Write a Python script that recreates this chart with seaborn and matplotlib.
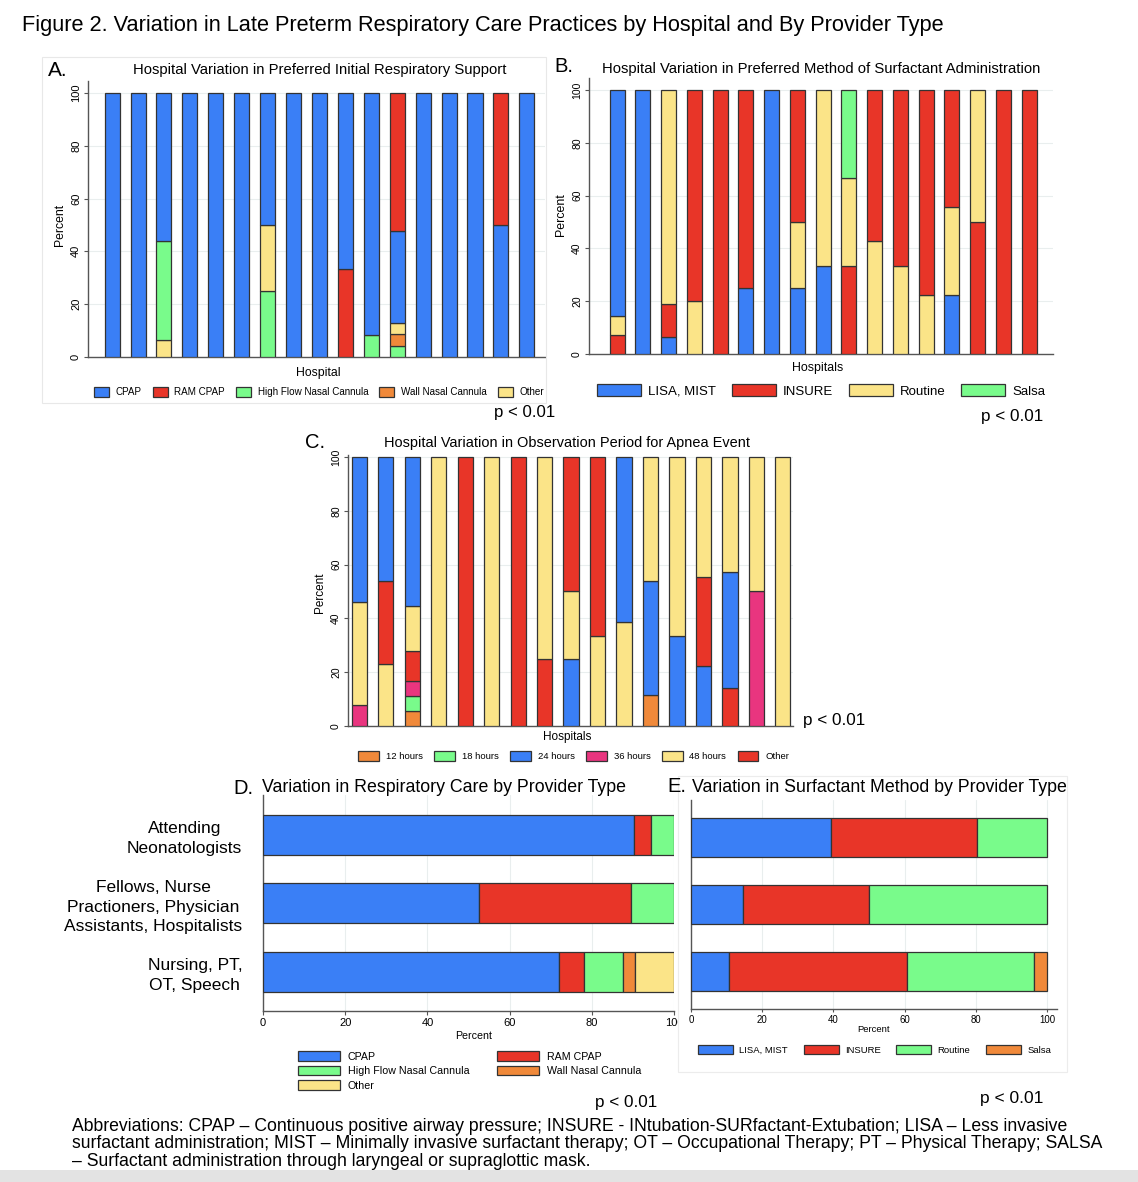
import numpy as np
import matplotlib
matplotlib.use("Agg")
import matplotlib.pyplot as plt
from matplotlib.patches import Patch, Rectangle
import seaborn as sns

# ---------------- data ----------------
n_hospitals = 17

resp_labels = ["CPAP", "RAM CPAP", "High Flow Nasal Cannula", "Wall Nasal Cannula", "Other"]
a_cpap  = [100, 100, 56.25, 100, 100, 100, 50, 100, 100, 66.67, 91.67, 34.78, 100, 100, 100, 50, 100]
a_ram   = [0, 0, 0, 0, 0, 0, 0, 0, 0, 33.33, 0, 52.17, 0, 0, 0, 50, 0]
a_hfnc  = [0, 0, 37.5, 0, 0, 0, 25, 0, 0, 0, 8.33, 4.35, 0, 0, 0, 0, 0]
a_wall  = [0, 0, 0, 0, 0, 0, 0, 0, 0, 0, 0, 4.35, 0, 0, 0, 0, 0]
a_other = [0, 0, 6.25, 0, 0, 0, 25, 0, 0, 0, 0, 4.35, 0, 0, 0, 0, 0]

surf_labels = ["LISA, MIST", "INSURE", "Routine", "Salsa"]
b_lisa    = [85.71, 100, 6.25, 0, 0, 25, 100, 25, 33.33, 0, 0, 0, 0, 22.22, 0, 0, 0]
b_insure  = [7.14, 0, 12.5, 80, 100, 75, 0, 50, 0, 33.33, 57.14, 66.67, 77.78, 44.44, 50, 100, 100]
b_routine = [7.14, 0, 81.25, 20, 0, 0, 0, 25, 66.67, 33.33, 42.86, 33.33, 22.22, 33.33, 50, 0, 0]
b_salsa   = [0, 0, 0, 0, 0, 0, 0, 0, 0, 33.33, 0, 0, 0, 0, 0, 0, 0]

apnea_labels = ["12 hours", "18 hours", "24 hours", "36 hours", "48 hours", "Other"]
c_12h   = [0, 0, 5.56, 0, 0, 0, 0, 0, 0, 0, 0, 11.54, 0, 0, 0, 0, 0]
c_18h   = [0, 0, 5.56, 0, 0, 0, 0, 0, 0, 0, 0, 0, 0, 0, 0, 0, 0]
c_24h   = [53.85, 46.15, 55.56, 0, 0, 0, 0, 0, 25, 0, 61.54, 42.31, 33.33, 22.22, 42.86, 0, 0]
c_36h   = [7.69, 0, 5.56, 0, 0, 0, 0, 0, 0, 0, 0, 0, 0, 0, 0, 50, 0]
c_48h   = [38.46, 23.08, 16.67, 100, 0, 100, 0, 75, 25, 33.33, 38.46, 46.15, 66.67, 44.44, 42.86, 50, 100]
c_other = [0, 30.77, 11.11, 0, 100, 0, 100, 25, 50, 66.67, 0, 0, 0, 33.33, 14.29, 0, 0]

providers = ["Attending\nNeonatologists",
             "Fellows, Nurse\nPractioners, Physician\nAssistants, Hospitalists",
             "Nursing, PT,\nOT, Speech"]
d_cpap  = [90.3, 52.6, 71.9]
d_ram   = [4.2, 36.9, 6.2]
d_hfnc  = [5.5, 10.5, 9.4]
d_wall  = [0, 0, 3.1]
d_other = [0, 0, 9.4]

e_lisa    = [39.4, 14.7, 10.7]
e_insure  = [40.9, 35.3, 50.0]
e_routine = [19.7, 50.0, 35.7]
e_salsa   = [0, 0, 3.6]

fig_title = "Figure 2. Variation in Late Preterm Respiratory Care Practices by Hospital and By Provider Type"
abbrev_lines = [
    "Abbreviations: CPAP \u2013 Continuous positive airway pressure; INSURE - INtubation-SURfactant-Extubation; LISA \u2013 Less invasive",
    "surfactant administration; MIST \u2013 Minimally invasive surfactant therapy; OT \u2013 Occupational Therapy; PT \u2013 Physical Therapy; SALSA",
    "\u2013 Surfactant administration through laryngeal or supraglottic mask.",
]

# ---------------- style ----------------
BLUE, RED, GREEN = "#3a7ff6", "#e83528", "#79fb8b"
ORANGE, YELLOW, PINK = "#f0893a", "#fbe488", "#e9357f"
EDGE = "#333333"
AXC = "#555555"
GRIDC = "#e9eeee"

sns.set_theme(style="white")
plt.rcParams['font.family'] = ['Liberation Sans', 'DejaVu Sans']
plt.rcParams['axes.edgecolor'] = AXC
plt.rcParams['axes.linewidth'] = 1.0
plt.rcParams['text.color'] = 'black'
plt.rcParams['axes.labelcolor'] = 'black'
plt.rcParams['axes.titlecolor'] = 'black'
plt.rcParams['xtick.color'] = 'black'
plt.rcParams['ytick.color'] = 'black'
plt.rcParams['legend.labelcolor'] = 'black'

W, H = 1138, 1182
fig = plt.figure(figsize=(W / 100, H / 100), dpi=100)
fig.patch.set_facecolor("white")
renderer = fig.canvas.get_renderer()


def fx(x):
    return x / W


def fy(y):
    return 1 - y / H


def add_ax(box, z=0):
    l, t, r, b = box
    return fig.add_axes([l / W, 1 - b / H, (r - l) / W, (b - t) / H], zorder=z)


def fit(t, target_w):
    w = t.get_window_extent(renderer).width
    t.set_fontsize(t.get_fontsize() * target_w / w)
    return t


def ftext(x, y, s, size, target_w=None, **kw):
    t = fig.text(fx(x), fy(y), s, fontsize=size, ha='left', va='center', color='black', **kw)
    if target_w:
        fit(t, target_w)
    return t


def to_ax(box, x, y):
    l, t, r, b = box
    return (x - l) / (r - l), (b - y) / (b - t)


def vertical_panel(box, values, colors, width, xlim, ytop, tick_fs, lab_fs,
                   xlabel, xlab_xy, ylab_xy):
    ax = add_ax(box)
    vals = np.array(values, dtype=float)
    for j in range(vals.shape[1]):
        order = np.argsort(vals[:, j], kind="stable")
        bottom = 0.0
        for i in order:
            v = vals[i, j]
            if v <= 0:
                continue
            ax.bar(j, v, bottom=bottom, width=width, color=colors[i],
                   edgecolor=EDGE, linewidth=0.9, zorder=3)
            bottom += v
    ax.set_xlim(*xlim)
    ax.set_ylim(0, ytop)
    ax.set_xticks([])
    ticks = [0, 20, 40, 60, 80, 100]
    ax.set_yticks(ticks)
    ax.set_yticklabels([str(t) for t in ticks], rotation=90, va='center')
    ax.tick_params(axis='y', left=True, length=3, width=0.8, color=AXC,
                   pad=2, labelsize=tick_fs, labelcolor='black')
    ax.yaxis.grid(True, color=GRIDC, linewidth=0.8)
    ax.set_axisbelow(True)
    for s in ['top', 'right']:
        ax.spines[s].set_visible(False)
    ax.set_xlabel(xlabel, fontsize=lab_fs, color='black')
    ax.set_ylabel("Percent", fontsize=lab_fs, color='black')
    ax.xaxis.label.set_va('center')
    ax.yaxis.label.set_va('center')
    ax.xaxis.set_label_coords(*to_ax(box, *xlab_xy))
    ax.yaxis.set_label_coords(*to_ax(box, *ylab_xy))
    return ax


def panel_title(ax, box, s, x0, x1, y):
    xa, ya = to_ax(box, (x0 + x1) / 2, y)
    t = ax.set_title(s, fontsize=10.5, color='black', va='center', x=xa, y=ya, pad=0)
    fit(t, x1 - x0)
    return t


def horizontal_panel(box, values, colors, height, xlim, zorder):
    ax = add_ax(box, zorder)
    vals = np.array(values, dtype=float)
    for j in range(vals.shape[1]):
        left = 0.0
        for i in range(vals.shape[0]):
            v = vals[i, j]
            if v <= 0:
                continue
            ax.barh(j, v, left=left, height=height, color=colors[i],
                    edgecolor=EDGE, linewidth=0.9, zorder=3)
            left += v
    ax.set_xlim(*xlim)
    ax.set_ylim(2.57, -0.58)
    ax.set_xticks([0, 20, 40, 60, 80, 100])
    ax.xaxis.grid(True, color=GRIDC, linewidth=0.8)
    ax.set_axisbelow(True)
    for s in ['top', 'right']:
        ax.spines[s].set_visible(False)
    return ax


def legend(labels, colors, x, y, fs, hl, hh, tp, cs, ncol, ls=0.4):
    handles = [Patch(facecolor=c, edgecolor=EDGE, linewidth=0.9) for c in colors]
    fig.legend(handles, labels, loc='center left', bbox_to_anchor=(fx(x), fy(y)),
               ncol=ncol, frameon=False, fontsize=fs, handlelength=hl,
               handleheight=hh, handletextpad=tp, columnspacing=cs,
               borderpad=0, borderaxespad=0, labelspacing=ls)


# faint panel frame for A
fig.patches.append(Rectangle((fx(42), fy(403)), (546 - 42) / W, (403 - 57) / H,
                             transform=fig.transFigure, facecolor='none',
                             edgecolor='#e8e8e8', linewidth=0.8, zorder=0))

# ---------------- Panel A ----------------
boxA = (88, 81, 545, 357)
colorsA = [BLUE, RED, GREEN, ORANGE, YELLOW]
axA = vertical_panel(boxA, [a_cpap, a_ram, a_hfnc, a_wall, a_other], colorsA,
                     0.58, (-0.93, 16.7), 104.5, 8, 8.8, "Hospital",
                     (318, 373), (60, 225))
panel_title(axA, boxA, "Hospital Variation in Preferred Initial Respiratory Support", 131, 508, 70)
ftext(48, 70, "A.", 15)
legend(resp_labels, colorsA, 94, 392, 7.1, 1.5, 1.25, 0.7, 1.12, 5)
ftext(494, 413, "p < 0.01", 12, 61)

# ---------------- Panel B ----------------
boxB = (589, 78, 1053, 354)
colorsB = [BLUE, RED, YELLOW, GREEN]
axB = vertical_panel(boxB, [b_lisa, b_insure, b_routine, b_salsa], colorsB,
                     0.58, (-1.09, 16.93), 104.5, 7.5, 8.9, "Hospitals",
                     (818, 368), (561, 215))
panel_title(axB, boxB, "Hospital Variation in Preferred Method of Surfactant Administration", 600, 1043, 69)
ftext(554, 66, "B.", 14.5)
legend(surf_labels, colorsB, 597, 391, 9.5, 3.33, 0.95, 0.53, 1.2, 4)
ftext(981, 416, "p < 0.01", 12, 62)

# ---------------- Panel C ----------------
boxC = (348, 455, 793, 726)
colorsC = [ORANGE, GREEN, BLUE, PINK, YELLOW, RED]
axC = vertical_panel(boxC, [c_12h, c_18h, c_24h, c_36h, c_48h, c_other], colorsC,
                     0.57, (-0.42, 16.38), 100.7, 7.5, 8.5, "Hospitals",
                     (567, 737), (320, 593))
panel_title(axC, boxC, "Hospital Variation in Observation Period for Apnea Event", 385, 750, 443)
ftext(305, 443, "C.", 14.5)
legend(apnea_labels, colorsC, 358, 756, 6.8, 2.2, 1.25, 0.73, 1.2, 6)
ftext(803, 721, "p < 0.01", 12, 62)

# ---------------- Panel D ----------------
boxD = (263, 795, 674, 1011)
colorsD = [BLUE, RED, GREEN, ORANGE, YELLOW]
axD = horizontal_panel(boxD, [d_cpap, d_ram, d_hfnc, d_wall, d_other], colorsD,
                       0.58, (0, 100), 0)
axD.set_yticks(range(len(providers)))
axD.set_yticklabels(providers, multialignment='center', linespacing=1.38)
axD.tick_params(axis='y', left=False, length=0, pad=15, labelsize=12.5, labelcolor='black')
axD.tick_params(axis='x', bottom=True, length=3, width=0.8, color=AXC, pad=2,
                labelsize=8, labelcolor='black')
axD.set_xlabel("Percent", fontsize=7.7, color='black')
axD.xaxis.label.set_va('center')
axD.xaxis.set_label_coords(*to_ax(boxD, 474, 1036))
ftext(262, 788, "Variation in Respiratory Care by Provider Type", 13, 625 - 262)
ftext(233, 788, "D.", 14.5)
legend([resp_labels[0], resp_labels[2], resp_labels[4], resp_labels[1], resp_labels[3]],
       [BLUE, GREEN, YELLOW, RED, ORANGE], 298, 1071, 7.7, 3.9, 1.0, 0.75, 2.6, 2, ls=0.37)
ftext(595, 1102, "p < 0.01", 12, 62)

# white frame of panel E drawn over panel D
fig.patches.append(Rectangle((fx(678), fy(1072)), (1067 - 678) / W, (1072 - 776) / H,
                             transform=fig.transFigure, facecolor='white',
                             edgecolor='#ececec', linewidth=0.8, zorder=0.5))

# ---------------- Panel E ----------------
boxE = (691, 800, 1057, 1009)
colorsE = [BLUE, RED, GREEN, ORANGE]
axE = horizontal_panel(boxE, [e_lisa, e_insure, e_routine, e_salsa], colorsE,
                       0.58, (0, 102.8), 1)
axE.set_ylim(2.56, -0.56)
axE.set_yticks(range(len(providers)))
axE.set_yticklabels([])
axE.tick_params(axis='y', left=False, length=0)
axE.tick_params(axis='x', bottom=True, length=2.5, width=0.8, color=AXC, pad=2,
                labelsize=6.9, labelcolor='black')
axE.set_xlabel("Percent", fontsize=6.8, color='black')
axE.xaxis.label.set_va('center')
axE.xaxis.set_label_coords(*to_ax(boxE, 874, 1030))
ftext(692, 787, "Variation in Surfactant Method by Provider Type", 13, 1067 - 692)
ftext(667, 787, "E.", 14.5)
legend(surf_labels, colorsE, 698, 1050, 6.8, 3.7, 1.06, 0.64, 1.7, 4)
ftext(980, 1099, "p < 0.01", 12, 63)

# ---------------- figure texts ----------------
t = fig.text(fx(22), fy(30.7), fig_title, fontsize=14, ha='left', va='baseline', color='black')
fit(t, 951 - 22)
t2 = fig.text(fx(72), fy(1148.3), abbrev_lines[1], fontsize=12, ha='left', va='baseline', color='black')
fit(t2, 1106 - 72)
fsab = t2.get_fontsize()
fig.text(fx(72), fy(1130.7), abbrev_lines[0], fontsize=fsab, ha='left', va='baseline', color='black')
fig.text(fx(72), fy(1165.5), abbrev_lines[2], fontsize=fsab, ha='left', va='baseline', color='black')

# grey band at bottom
fig.patches.append(Rectangle((0, 0), 1, (1182 - 1170) / H, transform=fig.transFigure,
                             facecolor='#e3e3e3', edgecolor='none', zorder=0))

fig.savefig("out.png", dpi=100, facecolor='white')
